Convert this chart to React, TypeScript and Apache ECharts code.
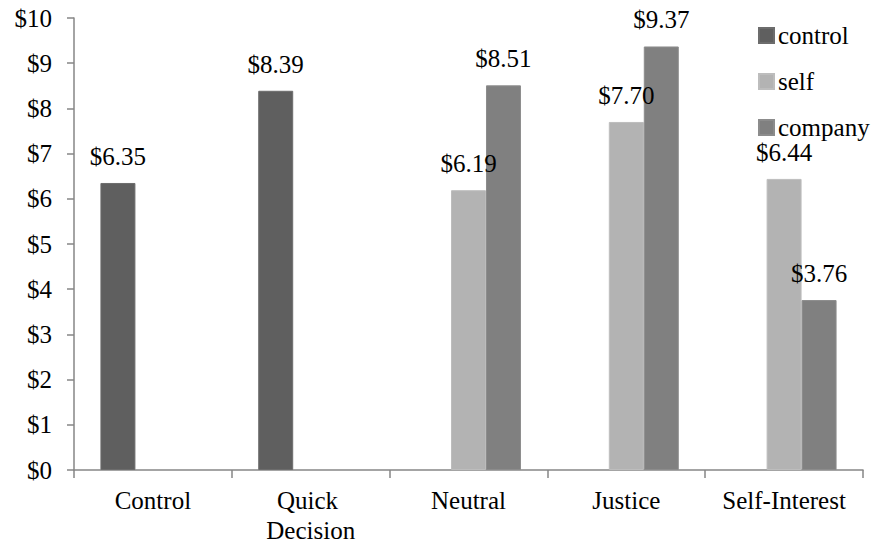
import React, { useEffect, useRef } from "react";
import * as echarts from "echarts";

const categories = ["Control", "Quick Decision", "Neutral", "Justice", "Self-Interest"];
const controlValues = [6.35, 8.39, null, null, null];
const selfValues = [null, null, 6.19, 7.7, 6.44];
const companyValues = [null, null, 8.51, 9.37, 3.76];
const seriesNames = ["control", "self", "company"];
const colors = ["#5f5f5f", "#b3b3b3", "#808080"];
const borders = ["#6c6c6c", "#bdbdbd", "#8c8c8c"];

const FONT = "Liberation Serif";
const FS = 25;

export default function App() {
  const ref = useRef<HTMLDivElement>(null);
  useEffect(() => {
    if (!ref.current) return;
    const chart = echarts.init(ref.current, null, { renderer: "svg" });
    const label = {
      show: true,
      position: "top" as const,
      distance: 14,
      color: "#000",
      fontFamily: FONT,
      fontSize: FS,
      formatter: (p: any) => "$" + Number(p.value).toFixed(2),
    };
    const data = [controlValues, selfValues, companyValues];
    chart.setOption({
      animation: false,
      textStyle: { fontFamily: FONT },
      grid: { left: 74, right: 15, top: 18, bottom: 76, containLabel: false },
      legend: {
        orient: "vertical",
        left: 753,
        top: 18,
        itemWidth: 15,
        itemHeight: 15,
        itemGap: 21,
        icon: "rect",
        textStyle: { fontFamily: FONT, fontSize: FS, color: "#000", lineHeight: 25, padding: [0, 0, 0, -1] },
        data: seriesNames,
      },
      xAxis: {
        type: "category",
        data: categories,
        axisLine: { lineStyle: { color: "#868686", width: 1.5 } },
        axisTick: { show: true, length: 8, lineStyle: { color: "#868686", width: 1.5 } },
        axisLabel: {
          color: "#000",
          fontFamily: FONT,
          fontSize: FS,
          margin: 15,
          lineHeight: 30,
          width: 145,
          overflow: "break",
          interval: 0,
        },
      },
      yAxis: {
        type: "value",
        min: 0,
        max: 10,
        interval: 1,
        splitLine: { show: false },
        axisLine: { show: true, lineStyle: { color: "#868686", width: 1.5 } },
        axisTick: { show: true, length: 7, lineStyle: { color: "#868686", width: 1.5 } },
        axisLabel: {
          color: "#000",
          fontFamily: FONT,
          fontSize: FS,
          margin: 22,
          formatter: (v: number) => "$" + v,
        },
      },
      series: seriesNames.map((name, i) => ({
        name,
        type: "bar",
        data: data[i],
        barGap: "0%",
        barCategoryGap: "33.5%",
        itemStyle: { color: colors[i], borderColor: borders[i], borderWidth: 1 },
        label,
      })),
    });
    return () => chart.dispose();
  }, []);
  return <div ref={ref} style={{ width: 878, height: 546, position: "absolute", left: 0, top: 0 }} />;
}
